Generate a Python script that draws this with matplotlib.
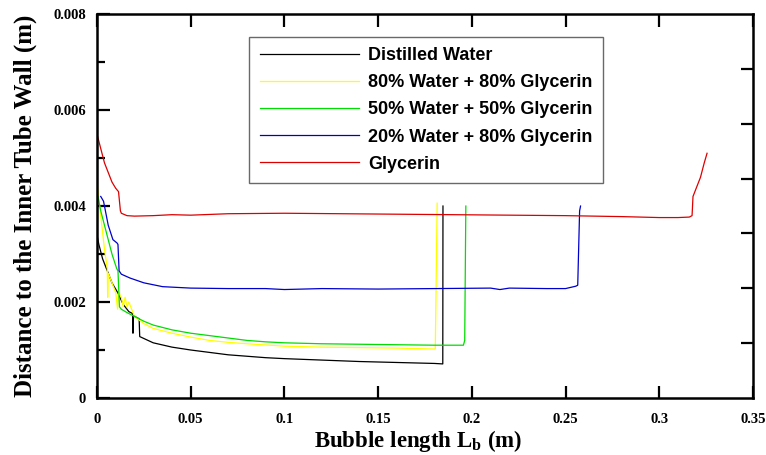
import matplotlib
matplotlib.use("Agg")
import matplotlib.pyplot as plt
from matplotlib.ticker import MultipleLocator, FixedLocator, NullFormatter

plt.rcParams['mathtext.fontset'] = 'custom'
plt.rcParams['mathtext.rm'] = 'Liberation Serif:bold'
plt.rcParams['mathtext.it'] = 'Liberation Serif:bold'
plt.rcParams['mathtext.bf'] = 'Liberation Serif:bold'

# data (x = bubble length, y = distance to wall)
water_x = [0, 0.001, 0.003, 0.005, 0.008, 0.011, 0.014, 0.017, 0.019, 0.0192, 0.0195,
           0.021, 0.0225, 0.0228, 0.025, 0.03, 0.04, 0.05, 0.06, 0.07, 0.08, 0.09, 0.1,
           0.12, 0.14, 0.16, 0.18, 0.1845, 0.1846]
water_y = [0.0034, 0.0032, 0.0029, 0.0027, 0.0024, 0.0022, 0.00195, 0.0018, 0.00176, 0.00135, 0.00172,
           0.00168, 0.00165, 0.00128, 0.00124, 0.00115, 0.00106, 0.001, 0.00095, 0.0009, 0.00087, 0.00084, 0.00082,
           0.00079, 0.00076, 0.00074, 0.00072, 0.00071, 0.0040]

w80_x = [0, 0.002, 0.004, 0.0055, 0.0057, 0.006, 0.008, 0.010, 0.011, 0.0115, 0.013,
         0.014, 0.015, 0.016, 0.017, 0.02, 0.025, 0.03, 0.04, 0.05, 0.06, 0.07, 0.08,
         0.1, 0.12, 0.14, 0.16, 0.18, 0.1805, 0.1815]
w80_y = [0.0045, 0.0038, 0.0031, 0.0027, 0.0021, 0.0026, 0.0024, 0.0022, 0.00185, 0.0022, 0.0021,
         0.0019, 0.0021, 0.0019, 0.0020, 0.0017, 0.00155, 0.00145, 0.00135, 0.00127, 0.0012, 0.00116, 0.00113,
         0.00108, 0.00106, 0.00105, 0.00104, 0.00102, 0.00102, 0.00406]

w50_x = [0.0005, 0.002, 0.004, 0.006, 0.008, 0.0105, 0.0112, 0.012, 0.013, 0.016, 0.02,
         0.025, 0.03, 0.04, 0.05, 0.06, 0.07, 0.08, 0.09, 0.1, 0.12, 0.14, 0.16, 0.18,
         0.1955, 0.1962, 0.1968]
w50_y = [0.0042, 0.0039, 0.0036, 0.0033, 0.0030, 0.0027, 0.00265, 0.0019, 0.00185, 0.00178, 0.0017,
         0.0016, 0.00152, 0.00142, 0.00135, 0.0013, 0.00125, 0.0012, 0.00117, 0.00115, 0.00113, 0.00112, 0.00111, 0.0011,
         0.0011, 0.0012, 0.0040]

w20_x = [0.002, 0.0035, 0.006, 0.0085, 0.0107, 0.0112, 0.0118, 0.013, 0.0176, 0.025, 0.035,
         0.05, 0.07, 0.09, 0.1, 0.12, 0.15, 0.18, 0.21, 0.215, 0.22, 0.24, 0.25,
         0.2555, 0.2565, 0.2575, 0.258]
w20_y = [0.0042, 0.0041, 0.0036, 0.0033, 0.00323, 0.0032, 0.00265, 0.00258, 0.0025, 0.0024, 0.00232,
         0.00229, 0.00228, 0.00228, 0.00226, 0.00228, 0.00227, 0.00228, 0.00229, 0.00226, 0.00229, 0.00228, 0.00228,
         0.00233, 0.00235, 0.0039, 0.0040]

gly_x = [0, 0.002, 0.004, 0.006, 0.008, 0.010, 0.0115, 0.012, 0.0125, 0.013, 0.016, 0.02,
         0.03, 0.04, 0.05, 0.07, 0.1, 0.13, 0.16, 0.19, 0.22, 0.25, 0.28, 0.3, 0.31,
         0.316, 0.3175, 0.318, 0.320, 0.322, 0.324, 0.3255]
gly_y = [0.0055, 0.0052, 0.0049, 0.0047, 0.0045, 0.00437, 0.0043, 0.0041, 0.0039, 0.00385, 0.0038, 0.00379,
         0.0038, 0.00382, 0.00381, 0.00384, 0.00385, 0.00384, 0.00383, 0.00382, 0.00381, 0.0038, 0.00378, 0.00376, 0.00376,
         0.00377, 0.0038, 0.0042, 0.0044, 0.0046, 0.0049, 0.0051]

labels = ['Distilled Water', '80% Water + 80% Glycerin', '50% Water + 50% Glycerin',
          '20% Water + 80% Glycerin', 'Glycerin']
colors = ['black', '#ffff00', '#00dd00', '#0000cc', '#dd0000']

xticks = [0, 0.05, 0.1, 0.15, 0.2, 0.25, 0.3, 0.35]
xtick_labels = ['0', '0.05', '0.1', '0.15', '0.2', '0.25', '0.3', '0.35']
yticks = [0, 0.002, 0.004, 0.006, 0.008]
ytick_labels = ['0', '0.002', '0.004', '0.006', '0.008']

fig = plt.figure(figsize=(7.66, 4.55), dpi=100)
ax = fig.add_axes([0.1266, 0.1253, 0.8564, 0.8437])

series = [(water_x, water_y), (w80_x, w80_y), (w50_x, w50_y), (w20_x, w20_y), (gly_x, gly_y)]
for (xs, ys), lab, col in zip(series, labels, colors):
    ax.plot(xs, ys, color=col, lw=0.9, label=lab)

ax.set_xlim(0, 0.35)
ax.set_ylim(0, 0.008)

tick_font = dict(family='Liberation Serif', weight='bold', size=10.5)
ax.set_xticks(xticks, labels=xtick_labels, **tick_font)
ax.set_yticks(yticks, labels=ytick_labels, **tick_font)
ax.yaxis.set_minor_locator(MultipleLocator(0.001))
ax.tick_params(which='major', direction='in', length=9, width=1.6, top=True, right=False, pad=8)
ax.tick_params(axis='x', pad=11)
ax.tick_params(which='minor', direction='in', length=6, width=1.6, left=True, right=False)
for sp in ax.spines.values():
    sp.set_linewidth(1.8)

# right-hand ticks in the reference divide the height into 7 steps
ax_r = ax.twinx()
ax_r.set_ylim(0, 7)
ax_r.yaxis.set_major_locator(FixedLocator([1, 2, 3, 4, 5, 6]))
ax_r.yaxis.set_major_formatter(NullFormatter())
ax_r.tick_params(direction='in', length=9, width=1.6)
for sp in ax_r.spines.values():
    sp.set_visible(False)

ax.set_xlabel(r'Bubble length L$_\mathrm{b}$ (m)', family='Liberation Serif', weight='bold', size=16.5)
ax.set_ylabel('Distance to the Inner Tube Wall (m)', family='Liberation Serif', weight='bold', size=18)
ax.xaxis.set_label_coords(0.49, -0.077)
ax.yaxis.set_label_coords(-0.091, 0.5)

leg = ax.legend(loc='upper left', bbox_to_anchor=(0.232, 0.941), frameon=True, fancybox=False,
                prop=dict(family='Liberation Sans', weight='bold', size=13),
                handlelength=5.5, handletextpad=0.5, labelspacing=0.56, borderpad=0.58,
                borderaxespad=0)
leg.get_frame().set_edgecolor('#444444')
leg.get_frame().set_linewidth(1.0)

fig.savefig('out.png', dpi=100)
